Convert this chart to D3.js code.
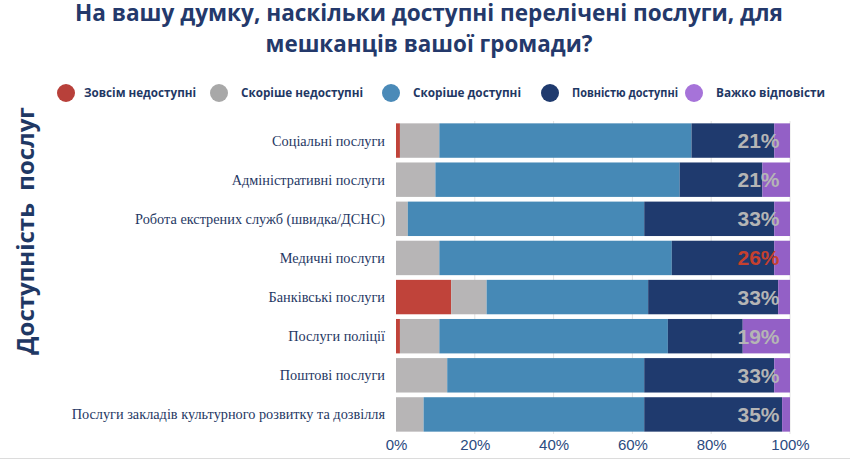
<!DOCTYPE html>
<html>
<head>
<meta charset="utf-8">
<script src="https://cdn.jsdelivr.net/npm/d3@7"></script>
<style>
  body { margin: 0; background: #fff; }
  svg { display: block; }
</style>
</head>
<body>
<div id="app"></div>
<script>
const categories = [
  "Соціальні послуги",
  "Адміністративні послуги",
  "Робота екстрених служб (швидка/ДСНС)",
  "Медичні послуги",
  "Банківські послуги",
  "Послуги поліції",
  "Поштові послуги",
  "Послуги закладів культурного розвитку та дозвілля"
];
const seriesNames = ["Зовсім недоступні", "Скоріше недоступні", "Скоріше доступні", "Повністю доступні", "Важко відповісти"];
const notAvailable = [1, 0, 0, 0, 14, 1, 0, 0];
const ratherNot = [10, 10, 3, 11, 9, 10, 13, 7];
const ratherYes = [64, 62, 60, 59, 41, 58, 50, 56];
const fullyAvailable = [21, 21, 33, 26, 33, 19, 33, 35];
const hardToSay = [4, 7, 4, 4, 3, 12, 4, 2];
const xTicks = [0, 20, 40, 60, 80, 100];
const highlighted = ["Медичні послуги"];

const width = 850;
const height = 460;
const navy = "#1f3864";
const barColors = ["#c0433a", "#b7b5b6", "#4689b6", "#1f3a6e", "#9360c6"];
const legendColors = ["#b8403a", "#a8a8a8", "#4a8ab8", "#1f3a6e", "#a673d9"];

const rows = categories.map((c, i) => ({
  category: c,
  values: [notAvailable[i], ratherNot[i], ratherYes[i], fullyAvailable[i], hardToSay[i]]
}));

const svg = d3.select("#app").append("svg")
  .attr("width", width)
  .attr("height", height);

const x = d3.scaleLinear().domain([0, 100]).range([396, 790]);
const y = d3.scaleBand()
  .domain(categories)
  .range([121, 434])
  .paddingInner(0.12)
  .paddingOuter(0.06);

// gridlines
svg.append("g")
  .selectAll("line")
  .data(xTicks.slice(1))
  .join("line")
  .attr("x1", d => x(d)).attr("x2", d => x(d))
  .attr("y1", y.range()[0]).attr("y2", y.range()[1])
  .attr("stroke", "#e3e3e3")
  .attr("stroke-width", 1);

// stacked bars
const groups = svg.append("g")
  .selectAll("g")
  .data(rows)
  .join("g")
  .attr("transform", d => `translate(0,${y(d.category)})`);

groups.selectAll("rect")
  .data(d => {
    let acc = 0;
    return d.values.map((v, k) => {
      const s = acc;
      acc += v;
      return { k, start: s, end: acc };
    });
  })
  .join("rect")
  .attr("x", d => x(d.start))
  .attr("width", d => x(d.end) - x(d.start))
  .attr("y", 0)
  .attr("height", y.bandwidth())
  .attr("fill", d => barColors[d.k]);

// labels for "fully available", placed near the right end of the bars
groups.append("text")
  .attr("x", x(92))
  .attr("y", y.bandwidth() / 2)
  .attr("dy", "0.36em")
  .attr("text-anchor", "middle")
  .attr("font-family", "Liberation Sans, Arial, sans-serif")
  .attr("font-weight", "bold")
  .attr("font-size", 21)
  .attr("fill", d => highlighted.includes(d.category) ? "#c5402e" : "#b5b5b5")
  .text(d => d.values[3] + "%");

// category labels
svg.append("g")
  .selectAll("text")
  .data(categories)
  .join("text")
  .attr("x", 385)
  .attr("y", d => y(d) + y.bandwidth() / 2)
  .attr("dy", "0.35em")
  .attr("text-anchor", "end")
  .attr("font-family", "Liberation Serif, Times New Roman, serif")
  .attr("font-size", 14.3)
  .attr("fill", navy)
  .text(d => d);

// x axis
const xAxis = d3.axisBottom(x)
  .tickValues(xTicks)
  .tickFormat(d => d + "%")
  .tickSize(0)
  .tickPadding(5);

const gx = svg.append("g")
  .attr("transform", `translate(0, ${y.range()[1]})`)
  .call(xAxis);
gx.select(".domain").remove();
gx.selectAll("text")
  .attr("font-family", "Liberation Sans, Arial, sans-serif")
  .attr("font-size", 15)
  .attr("fill", "#2b4a80");

// bottom frame line
svg.append("line")
  .attr("x1", 0).attr("x2", width)
  .attr("y1", 458.5).attr("y2", 458.5)
  .attr("stroke", "#dcdcdc");

// y axis title
svg.append("text")
  .attr("transform", "translate(34, 231) rotate(-90)")
  .attr("text-anchor", "middle")
  .attr("font-family", "Open Sans, DejaVu Sans, sans-serif")
  .attr("font-weight", "bold")
  .attr("font-size", 24)
  .attr("fill", navy)
  .style("white-space", "pre")
  .text("Доступність  послуг");

// title
const titleLines = [
  "На вашу думку, наскільки доступні перелічені послуги, для",
  "мешканців вашої громади?"
];
const titleWidths = [708, 327];
svg.append("g")
  .selectAll("text")
  .data(titleLines)
  .join("text")
  .attr("x", 429)
  .attr("y", (d, i) => 21 + i * 31)
  .attr("text-anchor", "middle")
  .attr("font-family", "Open Sans, DejaVu Sans, sans-serif")
  .attr("font-weight", "bold")
  .attr("font-size", 23)
  .attr("textLength", (d, i) => titleWidths[i])
  .attr("lengthAdjust", "spacingAndGlyphs")
  .attr("fill", "#24396b")
  .text(d => d);

// legend
const legendX = [66, 219, 391, 550, 694];
const legendWidths = [112, 122, 108, 106, 109];
const legend = svg.append("g")
  .selectAll("g")
  .data(seriesNames)
  .join("g")
  .attr("transform", (d, i) => `translate(${legendX[i]}, 93)`);
legend.append("circle")
  .attr("r", 9)
  .attr("fill", (d, i) => legendColors[i]);
legend.append("text")
  .attr("x", (d, i) => i === 0 ? 18 : 22)
  .attr("dy", "0.35em")
  .attr("font-family", "Open Sans, DejaVu Sans, sans-serif")
  .attr("font-weight", "bold")
  .attr("font-size", 12.5)
  .attr("textLength", (d, i) => legendWidths[i])
  .attr("lengthAdjust", "spacingAndGlyphs")
  .attr("fill", navy)
  .text(d => d);
</script>
</body>
</html>
